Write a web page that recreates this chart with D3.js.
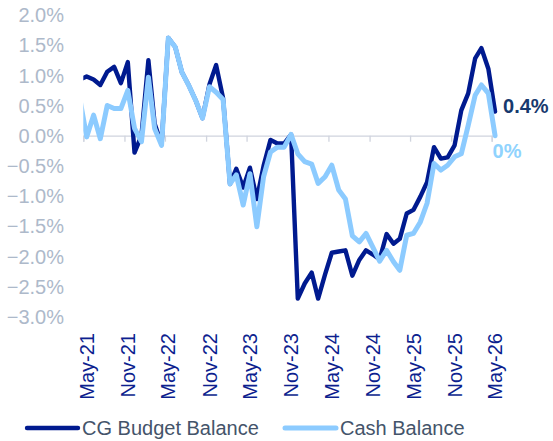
<!DOCTYPE html>
<html>
<head>
<meta charset="utf-8">
<script src="https://cdn.jsdelivr.net/npm/d3@7"></script>
<style>
  html, body { margin: 0; padding: 0; background: #ffffff; }
  svg { display: block; font-family: Arial, "Liberation Sans", sans-serif; }
</style>
</head>
<body>
<svg id="chart" width="553" height="441"></svg>
<script>
// Monthly observations, Apr-21 through May-26 (percent)
const firstMonth = "2021-04";
const lastMonth = "2026-05";

const cgBudgetBalance = [
  0.93,                                                  // Apr-21
  0.98, 0.93, 0.84, 1.06, 1.14, 0.87, 1.22, -0.28,       // May-21 .. Dec-21
  0.00, 1.25, 0.20, -0.14,                               // Jan-22 .. Apr-22
  1.62, 1.47, 1.05, 0.83, 0.58, 0.29, 0.85, 1.17,        // May-22 .. Dec-22
  0.62, -0.80, -0.55, -0.86,                             // Jan-23 .. Apr-23
  -0.53, -1.05, -0.50, -0.07, -0.13, -0.13, 0.02, -2.70, // May-23 .. Dec-23
  -2.45, -2.27, -2.70, -2.30,                            // Jan-24 .. Apr-24
  -1.94, -1.92, -1.90, -2.32, -2.06, -1.90, -1.97, -2.05,// May-24 .. Dec-24
  -1.63, -1.79, -1.71, -1.29,                            // Jan-25 .. Apr-25
  -1.23, -1.01, -0.77, -0.19, -0.38, -0.36, -0.16, 0.42, // May-25 .. Dec-25
  0.70, 1.28, 1.45, 1.11,                                // Jan-26 .. Apr-26
  0.40                                                   // May-26
];

const cashBalance = [
  0.60,
  -0.02, 0.34, -0.05, 0.50, 0.45, 0.45, 0.75, 0.12,
  -0.10, 0.97, 0.12, -0.16,
  1.62, 1.47, 1.05, 0.83, 0.58, 0.29, 0.81, 0.72,
  0.60, -0.80, -0.65, -1.15,
  -0.63, -1.51, -0.68, -0.27, -0.19, -0.19, 0.02, -0.30,
  -0.43, -0.47, -0.79, -0.68,
  -0.49, -0.90, -1.05, -1.66, -1.76, -1.62, -1.85, -2.08,
  -1.90, -2.09, -2.23, -1.65,
  -1.62, -1.43, -1.12, -0.46, -0.57, -0.49, -0.35, -0.30,
  0.17, 0.67, 0.84, 0.70,
  0.00
];

const yTicks = [2.0, 1.5, 1.0, 0.5, 0.0, -0.5, -1.0, -1.5, -2.0, -2.5, -3.0];
const xTickLabels = ["May-21", "Nov-21", "May-22", "Nov-22", "May-23", "Nov-23",
                     "May-24", "Nov-24", "May-25", "Nov-25", "May-26"];

const seriesNames = ["CG Budget Balance", "Cash Balance"];
const endLabels = ["0.4%", "0%"];

const colors = {
  budget: "#001a8f",
  cash: "#8ccbff",
  yText: "#adb9ca",
  xText: "#0d1f8f",
  axis: "#d0d4de",
  legendText: "#44546a",
  budgetLabel: "#17396e",
  cashLabel: "#8fd3fe"
};

const parseMonth = d3.timeParse("%Y-%m");
const fmtTick = d3.timeFormat("%b-%y");

// Observations sit in the middle of their month
const months = d3.timeMonth.range(parseMonth(firstMonth), d3.timeMonth.offset(parseMonth(lastMonth), 1));
const obsDate = m => d3.timeDay.offset(m, 15);

const svg = d3.select("#chart");

const plot = { left: 83.3, right: 491.7, top: 15, bottom: 316.7 };

const x = d3.scaleTime()
  .domain([parseMonth("2021-05"), parseMonth("2026-05")])
  .range([plot.left, plot.right]);

const y = d3.scaleLinear()
  .domain([-3, 2])
  .range([plot.bottom, plot.top]);

// Y axis labels (no axis line or gridlines)
svg.append("g")
  .selectAll("text")
  .data(yTicks)
  .join("text")
  .attr("x", 64)
  .attr("y", d => y(d))
  .attr("dy", "0.36em")
  .attr("text-anchor", "end")
  .attr("font-size", 20)
  .attr("fill", colors.yText)
  .text(d => d3.format(".1f")(d) + "%");

// Horizontal axis along zero, ticks every six months
const tickDates = xTickLabels.map(l => d3.timeParse("%b-%y")(l));
const xAxis = d3.axisBottom(x)
  .tickValues(tickDates)
  .tickSize(6)
  .tickFormat("");

const gx = svg.append("g")
  .attr("transform", `translate(0,${y(0)})`)
  .call(xAxis);
gx.select(".domain").attr("stroke", colors.axis).attr("stroke-width", 1.3);
gx.selectAll(".tick line").attr("stroke", colors.axis).attr("stroke-width", 1.3);

// Rotated date labels below the plot
svg.append("g")
  .selectAll("text")
  .data(tickDates)
  .join("text")
  .attr("transform", d => `translate(${x(d) + 10.5},333) rotate(-90)`)
  .attr("text-anchor", "end")
  .attr("font-size", 20)
  .attr("fill", colors.xText)
  .text(d => fmtTick(d));

// Lines, clipped at the left edge of the plot area
svg.append("clipPath").attr("id", "plotClip")
  .append("rect")
  .attr("x", plot.left).attr("y", 0)
  .attr("width", 553 - plot.left).attr("height", 441);

const line = d3.line()
  .x((d, i) => x(obsDate(months[i])))
  .y(d => y(d));

const lines = svg.append("g").attr("clip-path", "url(#plotClip)");

lines.append("path")
  .datum(cgBudgetBalance)
  .attr("d", line)
  .attr("fill", "none")
  .attr("stroke", colors.budget)
  .attr("stroke-width", 4.4)
  .attr("stroke-linejoin", "round")
  .attr("stroke-linecap", "round");

lines.append("path")
  .datum(cashBalance)
  .attr("d", line)
  .attr("fill", "none")
  .attr("stroke", colors.cash)
  .attr("stroke-width", 5)
  .attr("stroke-linejoin", "round")
  .attr("stroke-linecap", "round");

// End-of-series value labels
const lastIdx = months.length - 1;
const lastX = x(obsDate(months[lastIdx]));

svg.append("text")
  .attr("x", lastX + 8)
  .attr("y", y(cgBudgetBalance[lastIdx]) - 5.5)
  .attr("dy", "0.36em")
  .attr("font-size", 20)
  .attr("font-weight", "bold")
  .attr("fill", colors.budgetLabel)
  .text(endLabels[0]);

svg.append("text")
  .attr("x", lastX - 2.5)
  .attr("y", y(cashBalance[lastIdx]) + 15)
  .attr("dy", "0.36em")
  .attr("font-size", 20)
  .attr("font-weight", "bold")
  .attr("fill", colors.cashLabel)
  .text(endLabels[1]);

// Legend
const legendItems = [
  { name: seriesNames[0], color: colors.budget, x0: 27, width: 4.4 },
  { name: seriesNames[1], color: colors.cash, x0: 285, width: 5 }
];
const legend = svg.append("g");
legendItems.forEach(item => {
  legend.append("line")
    .attr("x1", item.x0).attr("x2", item.x0 + 51)
    .attr("y1", 428).attr("y2", 428)
    .attr("stroke", item.color)
    .attr("stroke-width", item.width)
    .attr("stroke-linecap", "round");
  legend.append("text")
    .attr("x", item.x0 + 55)
    .attr("y", 428)
    .attr("dy", "0.36em")
    .attr("font-size", 20)
    .attr("fill", colors.legendText)
    .text(item.name);
});
</script>
</body>
</html>
